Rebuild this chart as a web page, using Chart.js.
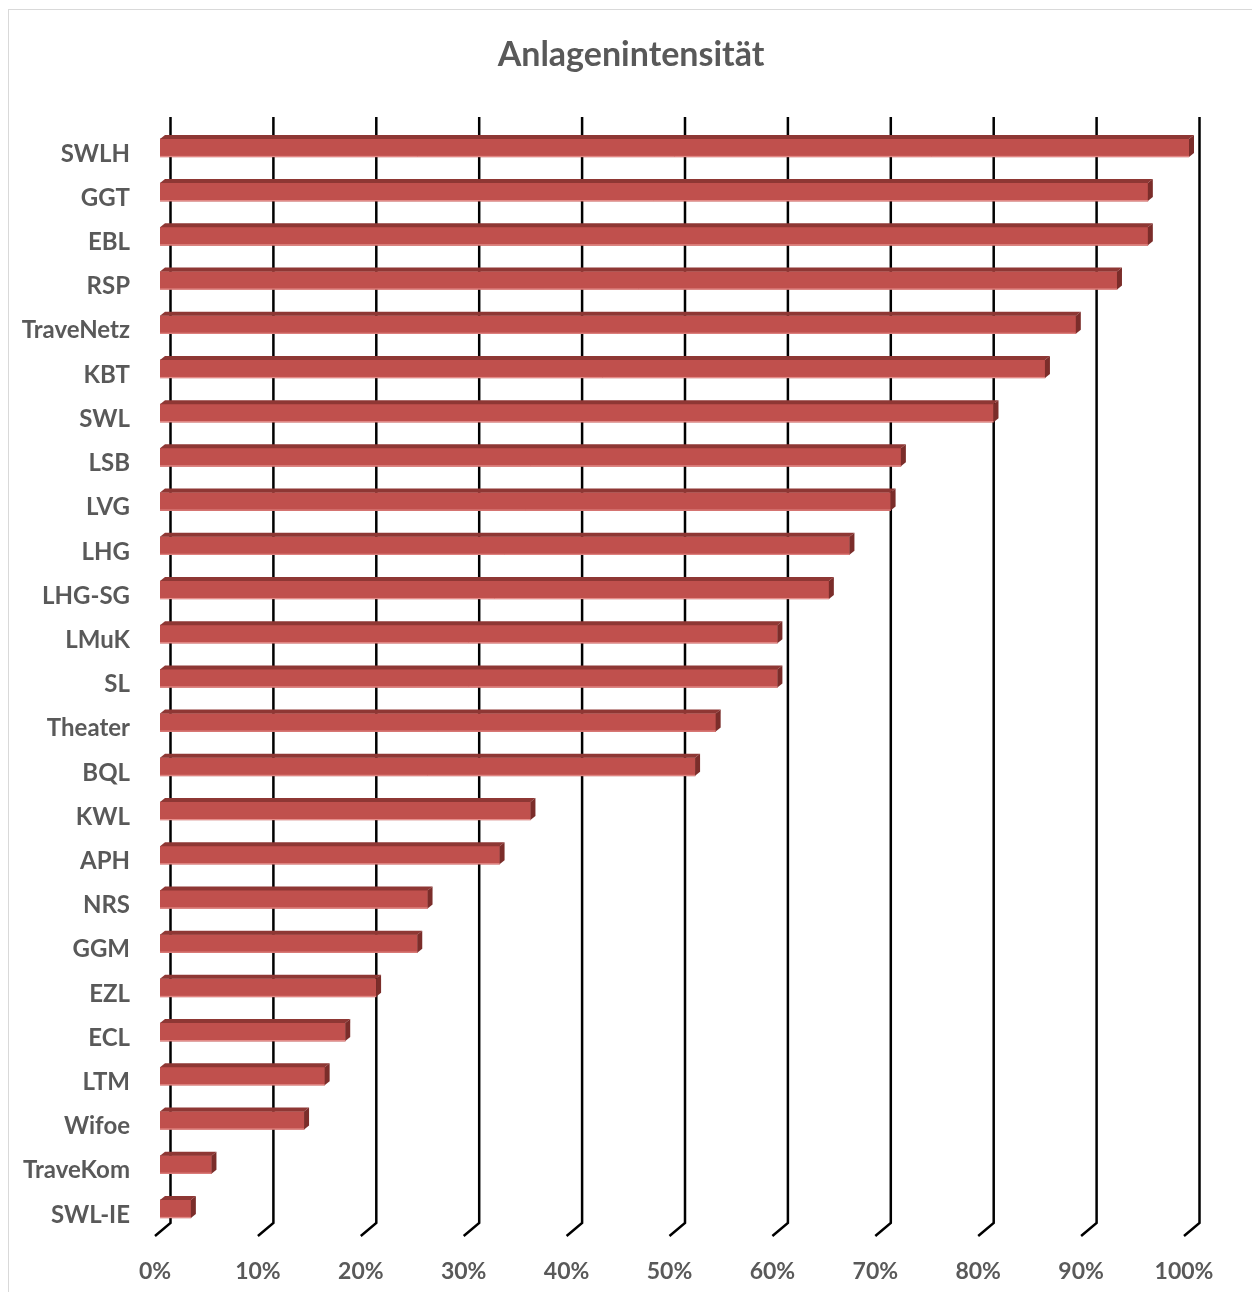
<!DOCTYPE html>
<html>
<head>
<meta charset="utf-8">
<script src="https://cdn.jsdelivr.net/npm/chart.js@4/dist/chart.umd.min.js"></script>
<style>
  html, body { margin: 0; padding: 0; background: #fff; }
  #wrap { position: relative; width: 1252px; height: 1292px; overflow: hidden; }
  #frame { position: absolute; left: 8px; top: 9px; width: 1260px; height: 1300px; border: 1.5px solid #d9d9d9; box-sizing: border-box; }
  #chart { position: absolute; left: 0; top: 0; }
</style>
</head>
<body>
<div id="wrap">
  <div id="frame"></div>
  <canvas id="chart" width="1252" height="1292"></canvas>
</div>
<script>
'use strict';

const chartTitle = 'Anlagenintensität';

const categories = [
    'SWLH', 'GGT', 'EBL', 'RSP', 'TraveNetz', 'KBT', 'SWL', 'LSB', 'LVG', 'LHG',
    'LHG-SG', 'LMuK', 'SL', 'Theater', 'BQL', 'KWL', 'APH', 'NRS', 'GGM', 'EZL',
    'ECL', 'LTM', 'Wifoe', 'TraveKom', 'SWL-IE'
];

// Anlagenintensität in %
const intensity = [
    100, 96, 96, 93, 89, 86, 81, 72, 71, 67,
    65, 60, 60, 54, 52, 36, 33, 26, 25, 21,
    18, 16, 14, 5, 3
];

const tickValues = [0, 10, 20, 30, 40, 50, 60, 70, 80, 90, 100];

const TEXT = '#595959';
const FRONT = '#c0504d';
const TOP = '#8e3734';
const SIDE = '#7b2d2a';
const DEPTH_X = 5, DEPTH_Y = 4;

// back wall gridlines with the little floor bend at the bottom
const wallGrid = {
    id: 'wallGrid',
    beforeDatasetsDraw(chart) {
        const { ctx, scales: { x } } = chart;
        ctx.save();
        ctx.strokeStyle = '#000';
        ctx.lineWidth = 2.5;
        ctx.lineJoin = 'miter';
        tickValues.forEach(v => {
            const px = x.getPixelForValue(v);
            ctx.beginPath();
            ctx.moveTo(px + 10.5, 117);
            ctx.lineTo(px + 10.5, 1223);
            ctx.lineTo(px - 5, 1236);
            ctx.stroke();
        });
        ctx.restore();
    }
};

// top and side faces to fake the 3d look
const barFaces = {
    id: 'barFaces',
    afterDatasetsDraw(chart) {
        const { ctx } = chart;
        const meta = chart.getDatasetMeta(0);
        ctx.save();
        meta.data.forEach(bar => {
            const { x, y, base, height } = bar.getProps(['x', 'y', 'base', 'height'], true);
            const top = y - height / 2;
            const bottom = y + height / 2;

            ctx.fillStyle = TOP;
            ctx.beginPath();
            ctx.moveTo(base, top);
            ctx.lineTo(base + DEPTH_X, top - DEPTH_Y);
            ctx.lineTo(x + DEPTH_X, top - DEPTH_Y);
            ctx.lineTo(x, top);
            ctx.closePath();
            ctx.fill();

            ctx.fillStyle = SIDE;
            ctx.beginPath();
            ctx.moveTo(x, top);
            ctx.lineTo(x + DEPTH_X, top - DEPTH_Y);
            ctx.lineTo(x + DEPTH_X, bottom - DEPTH_Y);
            ctx.lineTo(x, bottom);
            ctx.closePath();
            ctx.fill();

            ctx.strokeStyle = 'rgba(240,160,158,0.8)';
            ctx.lineWidth = 1;
            ctx.beginPath();
            ctx.moveTo(base, bottom - 0.5);
            ctx.lineTo(x, bottom - 0.5);
            ctx.stroke();
        });
        ctx.restore();
    }
};

new Chart(document.getElementById('chart').getContext('2d'), {
    type: 'bar',
    data: {
        labels: categories,
        datasets: [{
            data: intensity,
            backgroundColor: FRONT,
            borderWidth: 0,
            barThickness: 18
        }]
    },
    options: {
        indexAxis: 'y',
        responsive: false,
        animation: false,
        devicePixelRatio: 1,
        layout: { padding: { top: 0, left: 10, right: 0, bottom: 0 } },
        plugins: {
            legend: { display: false },
            tooltip: { enabled: false },
            title: {
                display: true,
                text: chartTitle,
                color: TEXT,
                font: { family: 'Lato', size: 34, weight: 'bold', lineHeight: 1.2 },
                padding: { top: 35, bottom: 50 }
            }
        },
        scales: {
            x: {
                type: 'linear',
                min: 0,
                max: 100,
                afterBuildTicks(scale) {
                    scale.ticks = tickValues.map(v => ({ value: v }));
                },
                afterFit(scale) { scale.height = 61; },
                grid: { display: false, drawTicks: false },
                border: { display: false },
                ticks: {
                    color: TEXT,
                    font: { family: 'Lato', size: 23, weight: 'bold' },
                    padding: 27,
                    labelOffset: -5,
                    maxRotation: 0,
                    callback: v => v + '%'
                }
            },
            y: {
                afterFit(scale) { scale.width = 150; },
                grid: { display: false, drawTicks: false },
                border: { display: false },
                ticks: {
                    color: TEXT,
                    font: { family: 'Lato', size: 24, weight: 'bold' },
                    padding: 30,
                    labelOffset: 6,
                    autoSkip: false
                }
            },
            // empty right-hand axis, only reserves the space right of the plot
            yRight: {
                position: 'right',
                afterFit(scale) { scale.width = 63; },
                grid: { display: false, drawTicks: false },
                border: { display: false },
                ticks: { display: false }
            }
        }
    },
    plugins: [wallGrid, barFaces]
});
</script>
</body>
</html>
